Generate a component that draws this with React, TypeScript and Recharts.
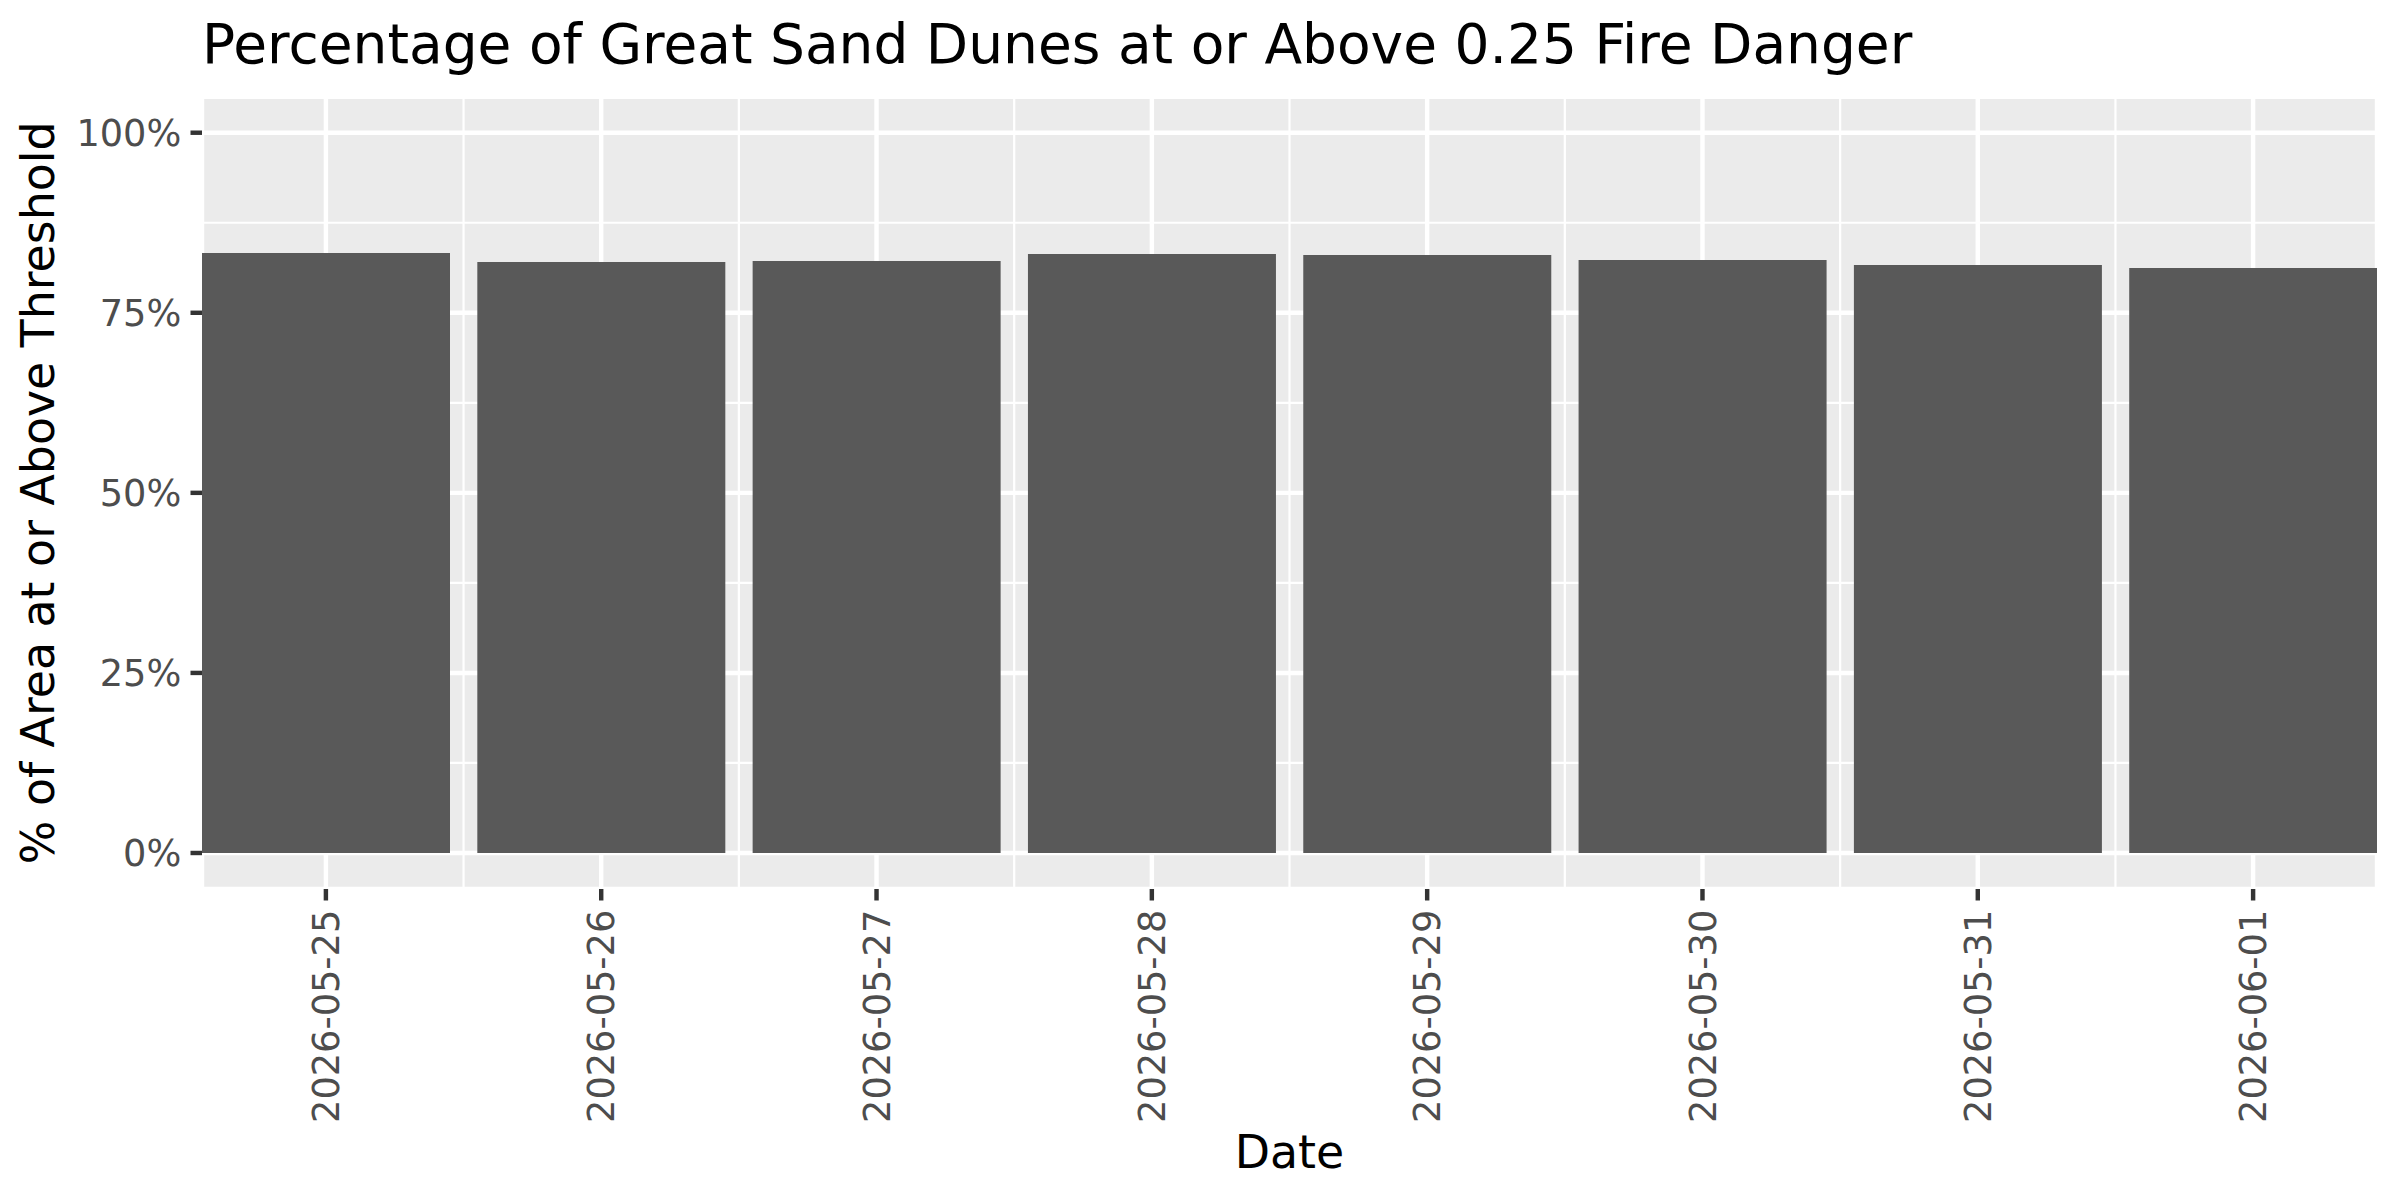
import React from "react";
import {
  BarChart,
  Bar,
  XAxis,
  YAxis,
  CartesianGrid,
} from "recharts";

// ---- data ----
const dates: string[] = [
  "2026-05-25",
  "2026-05-26",
  "2026-05-27",
  "2026-05-28",
  "2026-05-29",
  "2026-05-30",
  "2026-05-31",
  "2026-06-01",
];
const pctValues: number[] = [83.29, 82.04, 82.18, 83.15, 83.01, 82.32, 81.63, 81.21];
const yMajorTicks: number[] = [0, 25, 50, 75, 100];
const yMinorTicks: number[] = [12.5, 37.5, 62.5, 87.5];
const yDomain: [number, number] = [-5, 105];

const TITLE = "Percentage of Great Sand Dunes at or Above 0.25 Fire Danger";
const X_TITLE = "Date";
const Y_TITLE = "% of Area at or Above Threshold";

const data = dates.map((d, i) => ({ idx: i + 1, date: d, pct: pctValues[i] }));
const xMajorTicks = dates.map((_, i) => i + 1);
const xMinorTicks = dates.slice(1).map((_, i) => i + 1.5);
const xDomain: [number, number] = [0.55, dates.length + 0.45];

// ---- layout ----
const W = 2400;
const H = 1200;
const PANEL_LEFT = 202;
const PANEL_TOP = 96.7;
const PANEL_RIGHT = 2377;
const PANEL_BOTTOM = 889;
const FONT = "'DejaVu Sans', sans-serif";
const MAJOR_W = 4.44;
const MINOR_W = 2.22;

const XTick = (props: any) => {
  const { x, y, payload } = props;
  const label = dates[Math.round(payload.value) - 1] ?? "";
  return (
    <text
      transform={`translate(${x},${y}) rotate(-90)`}
      textAnchor="end"
      dy="0.36em"
      fontFamily={FONT}
      fontSize={36.7}
      fill="#4D4D4D"
    >
      {label}
    </text>
  );
};

const YTick = (props: any) => {
  const { x, y, payload } = props;
  return (
    <text
      x={x}
      y={y}
      textAnchor="end"
      dy="0.36em"
      fontFamily={FONT}
      fontSize={36.7}
      fill="#4D4D4D"
    >
      {`${payload.value}%`}
    </text>
  );
};

export default function App() {
  return (
    <div style={{ position: "relative", width: W, height: H, background: "#FFFFFF" }}>
      <style>{`body{margin:0;}`}</style>
      <BarChart
        width={W}
        height={H}
        data={data}
        margin={{ top: PANEL_TOP, right: W - PANEL_RIGHT, bottom: 0, left: 0 }}
        barCategoryGap="5%"
      >
        <CartesianGrid
          xAxisId="main"
          yAxisId="main"
          stroke="#FFFFFF"
          strokeWidth={MAJOR_W}
          fill="#EBEBEB"
          fillOpacity={1}
        />
        <CartesianGrid
          xAxisId="minor"
          yAxisId="minor"
          stroke="#FFFFFF"
          strokeWidth={MINOR_W}
        />
        <XAxis
          xAxisId="main"
          dataKey="idx"
          type="number"
          domain={xDomain}
          allowDataOverflow
          ticks={xMajorTicks}
          interval={0}
          height={H - PANEL_BOTTOM}
          axisLine={false}
          tickLine={{ stroke: "#333333", strokeWidth: MAJOR_W }}
          tickSize={11.5}
          tickMargin={9.2}
          tick={<XTick />}
        />
        <XAxis
          xAxisId="minor"
          dataKey="idx"
          type="number"
          domain={xDomain}
          allowDataOverflow
          ticks={xMinorTicks}
          interval={0}
          hide
        />
        <YAxis
          yAxisId="main"
          type="number"
          domain={yDomain}
          allowDataOverflow
          ticks={yMajorTicks}
          interval={0}
          width={PANEL_LEFT}
          axisLine={false}
          tickLine={{ stroke: "#333333", strokeWidth: MAJOR_W }}
          tickSize={11.5}
          tickMargin={9.2}
          tick={<YTick />}
        />
        <YAxis
          yAxisId="minor"
          type="number"
          domain={yDomain}
          allowDataOverflow
          ticks={yMinorTicks}
          interval={0}
          hide
        />
        <Bar
          xAxisId="main"
          yAxisId="main"
          dataKey="pct"
          fill="#595959"
          isAnimationActive={false}
        />
      </BarChart>
      <svg
        width={W}
        height={H}
        style={{ position: "absolute", left: 0, top: 0, pointerEvents: "none" }}
      >
        <text x={PANEL_LEFT} y={63.3} fontFamily={FONT} fontSize={55} fill="#000000">
          {TITLE}
        </text>
        <text
          x={(PANEL_LEFT + PANEL_RIGHT) / 2}
          y={1168.3}
          textAnchor="middle"
          fontFamily={FONT}
          fontSize={45.8}
          fill="#000000"
        >
          {X_TITLE}
        </text>
        <text
          transform={`translate(54,${(PANEL_TOP + PANEL_BOTTOM) / 2}) rotate(-90)`}
          textAnchor="middle"
          fontFamily={FONT}
          fontSize={45.8}
          fill="#000000"
        >
          {Y_TITLE}
        </text>
      </svg>
    </div>
  );
}
